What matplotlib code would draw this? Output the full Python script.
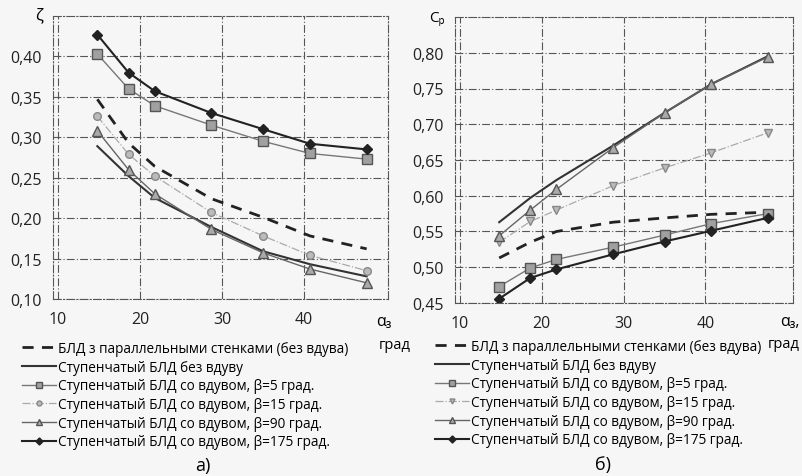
import numpy as np
import matplotlib
matplotlib.use("Agg")
import matplotlib.pyplot as plt
from matplotlib.ticker import FuncFormatter

plt.rcParams['font.family'] = ['Open Sans', 'DejaVu Sans']

# angle alpha_3, degrees (same points on both charts)
alpha = [14.8, 18.6, 21.8, 28.7, 35.0, 40.7, 47.6]

labels = [
    "БЛД з параллельными стенками (без вдува)",
    "Ступенчатый БЛД без вдуву",
    "Ступенчатый БЛД со вдувом, β=5 град.",
    "Ступенчатый БЛД со вдувом, β=15 град.",
    "Ступенчатый БЛД со вдувом, β=90 град.",
    "Ступенчатый БЛД со вдувом, β=175 град.",
]

# a) loss coefficient zeta
zeta_parallel = [0.347, 0.293, 0.264, 0.224, 0.201, 0.178, 0.162]
zeta_noblow = [0.289, 0.252, 0.225, 0.189, 0.159, 0.143, 0.128]
zeta_b5 = [0.403, 0.360, 0.339, 0.315, 0.295, 0.280, 0.273]
zeta_b15 = [0.326, 0.279, 0.252, 0.207, 0.178, 0.154, 0.135]
zeta_b90 = [0.308, 0.260, 0.230, 0.186, 0.157, 0.137, 0.120]
zeta_b175 = [0.427, 0.380, 0.357, 0.330, 0.310, 0.292, 0.285]

# b) pressure recovery coefficient Cp
cp_parallel = [0.513, 0.535, 0.550, 0.563, 0.569, 0.574, 0.577]
cp_noblow = [0.563, 0.597, 0.622, 0.670, 0.716, 0.756, 0.795]
cp_b5 = [0.473, 0.499, 0.511, 0.528, 0.545, 0.561, 0.575]
cp_b15 = [0.535, 0.564, 0.580, 0.614, 0.639, 0.660, 0.688]
cp_b90 = [0.544, 0.580, 0.609, 0.667, 0.716, 0.756, 0.794]
cp_b175 = [0.456, 0.485, 0.497, 0.518, 0.536, 0.551, 0.569]

bg = "#f6f6f6"
fig = plt.figure(figsize=(8.03, 4.77), dpi=100, facecolor=bg)

ax1 = fig.add_axes([53/803, 1-300/477, 335/803, 283/477])
ax2 = fig.add_axes([455/803, 1-304/477, 338/803, 286/477])

comma = FuncFormatter(lambda v, p: f"{v:.2f}".replace(".", ","))


def draw(ax, ys, b15_marker):
    par, nob, b5, b15, b90, b175 = ys
    ax.plot(alpha, par, color="#222222", lw=2.0, dashes=(4, 3), label=labels[0])
    ax.plot(alpha, nob, color="#333333", lw=1.5, label=labels[1])
    ax.plot(alpha, b5, color="#777777", lw=1.0, marker="s", ms=6.5,
            mfc="#a0a0a0", mec="#555555", label=labels[2])
    ax.plot(alpha, b15, color="#aaaaaa", lw=0.9, ls="-.", marker=b15_marker, ms=5.5,
            mfc="#bbbbbb", mec="#888888", label=labels[3])
    ax.plot(alpha, b90, color="#666666", lw=1.0, marker="^", ms=6.5,
            mfc="#aaaaaa", mec="#555555", label=labels[4])
    ax.plot(alpha, b175, color="#222222", lw=1.5, marker="D", ms=5.5,
            mfc="#222222", mec="#222222", label=labels[5])
    ax.set_facecolor(bg)
    ax.set_xticks([10, 20, 30, 40])
    ax.yaxis.set_major_formatter(comma)
    ax.tick_params(length=0, labelsize=11.5, colors="#222222")
    ax.tick_params(axis="x", pad=9)
    ax.tick_params(axis="y", pad=8)
    ax.grid(True, color="#555555", lw=0.8, ls=(0, (7, 2, 1, 2)))
    for s in ax.spines.values():
        s.set_color("#555555")
        s.set_linewidth(0.8)
        s.set_linestyle((0, (7, 2, 1, 2)))
    ax.set_axisbelow(True)


draw(ax1, [zeta_parallel, zeta_noblow, zeta_b5, zeta_b15, zeta_b90, zeta_b175], "o")
ax1.set_xlim(9.4, 50.2)
ax1.set_ylim(0.10, 0.45)
ax1.set_yticks(np.arange(0.10, 0.41, 0.05))

draw(ax2, [cp_parallel, cp_noblow, cp_b5, cp_b15, cp_b90, cp_b175], "v")
ax2.set_xlim(9.4, 50.7)
ax2.set_ylim(0.45, 0.85)
ax2.set_yticks(np.arange(0.45, 0.81, 0.05))

# axis captions
fig.text(39/803, 1-16/477, "ζ", fontsize=12, ha="center", va="center")
fig.text(437/803, 1-18/477, "Cₚ", fontsize=11, ha="center", va="center")
fig.text(384/803, 1-322/477, "α₃", fontsize=11.5, ha="center", va="center")
fig.text(395/803, 1-346/477, "град", fontsize=10.5, ha="center", va="center")
fig.text(790/803, 1-322/477, "α₃,", fontsize=11.5, ha="center", va="center")
fig.text(784/803, 1-345/477, "град", fontsize=10.5, ha="center", va="center")

for ax, x0, y0 in [(ax1, 22, 342), (ax2, 435, 340)]:
    ax.legend(loc="upper left", bbox_to_anchor=(x0/803, 1-y0/477),
              bbox_transform=fig.transFigure, frameon=False, fontsize=9.8,
              handlelength=2.5, handletextpad=0.15, labelspacing=0.27,
              borderpad=0, borderaxespad=0, markerscale=0.65)

fig.text(203/803, 1-466/477, "а)", fontsize=13, ha="center", va="center")
fig.text(603/803, 1-465/477, "б)", fontsize=13, ha="center", va="center")

fig.savefig("out.png", dpi=100, facecolor=bg)
